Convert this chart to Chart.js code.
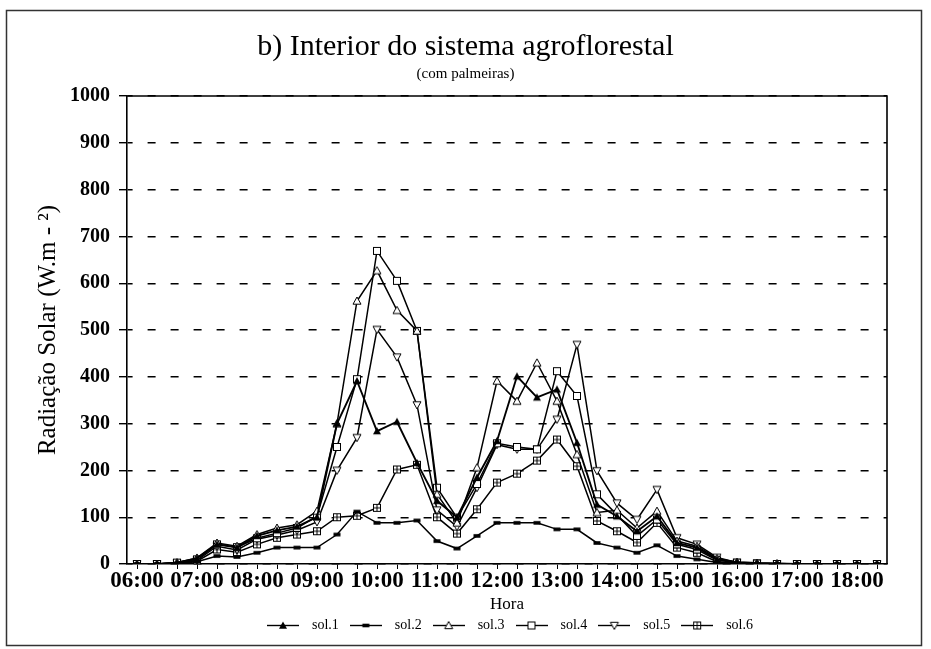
<!DOCTYPE html>
<html><head><meta charset="utf-8">
<script src="https://cdn.jsdelivr.net/npm/chart.js@4.4.0/dist/chart.umd.min.js"></script>
<style>html,body{margin:0;padding:0;background:#fff;overflow:hidden}canvas{display:block}</style>
</head><body>
<canvas id="c" width="931" height="649"></canvas>
<script>
const categories = ['06:00','06:20','06:40','07:00','07:20','07:40','08:00','08:20','08:40','09:00','09:20','09:40',
  '10:00','10:20','10:40','11:00','11:20','11:40','12:00','12:20','12:40','13:00','13:20','13:40',
  '14:00','14:20','14:40','15:00','15:20','15:40','16:00','16:20','16:40','17:00','17:20','17:40','18:00','18:20'];
const hourLabels = ['06:00','07:00','08:00','09:00','10:00','11:00','12:00','13:00','14:00','15:00','16:00','17:00','18:00'];
const seriesNames = ['sol.1','sol.2','sol.3','sol.4','sol.5','sol.6'];
const sol1 = [0,0,3,12,42,35,60,72,80,100,300,391,284,304,216,135,100,185,263,401,356,373,259,127,102,70,102,45,35,10,4,2,1,0,0,0,0,0];
const sol2 = [0,0,1,5,17,15,24,35,35,35,63,112,88,88,93,49,33,60,88,88,88,74,74,45,35,24,40,17,10,3,1,0,0,0,0,0,0,0];
const sol3 = [0,0,3,13,45,38,63,77,84,113,300,562,627,542,498,149,88,206,391,348,430,348,234,110,115,77,113,49,38,12,4,2,1,0,0,0,0,0];
const sol4 = [0,0,3,10,42,36,55,66,77,102,250,395,669,605,498,163,99,171,258,250,245,412,359,149,105,60,95,42,31,8,3,1,0,0,0,0,0,0];
const sol5 = [0,0,2,8,38,30,53,62,72,90,200,270,501,442,340,115,80,163,255,245,245,309,469,199,130,95,159,56,42,14,3,1,0,0,0,0,0,0];
const sol6 = [0,0,2,6,31,25,42,56,63,70,100,103,120,202,212,100,65,117,174,193,221,266,209,92,70,46,88,35,24,5,2,1,0,0,0,0,0,0];
const yMin = 0, yMax = 1000, yStep = 100;

function drawMarker(ctx, cx, cy, kind) {
  ctx.lineWidth = 1;
  ctx.strokeStyle = '#000';
  ctx.fillStyle = '#000';
  const s = 4;
  if (kind === 'triF' || kind === 'triO') {
    ctx.beginPath();
    ctx.moveTo(cx, cy - s); ctx.lineTo(cx + s, cy + s * 0.8); ctx.lineTo(cx - s, cy + s * 0.8); ctx.closePath();
    if (kind === 'triF') ctx.fill(); else { ctx.fillStyle = '#fff'; ctx.fill(); ctx.stroke(); }
  } else if (kind === 'triD') {
    ctx.beginPath();
    ctx.moveTo(cx, cy + s); ctx.lineTo(cx + s, cy - s * 0.8); ctx.lineTo(cx - s, cy - s * 0.8); ctx.closePath();
    ctx.fillStyle = '#fff'; ctx.fill(); ctx.stroke();
  } else if (kind === 'bar') {
    ctx.fillRect(cx - 3.5, cy - 1.8, 7, 3.6);
  } else if (kind === 'sqO') {
    ctx.fillStyle = '#fff';
    ctx.fillRect(cx - 3.5, cy - 3.5, 7, 7);
    ctx.strokeRect(cx - 3.5, cy - 3.5, 7, 7);
  } else if (kind === 'sqX') {
    ctx.fillStyle = '#fff';
    ctx.fillRect(cx - 3.5, cy - 3.5, 7, 7);
    ctx.strokeRect(cx - 3.5, cy - 3.5, 7, 7);
    ctx.beginPath();
    ctx.moveTo(cx - 3.5, cy); ctx.lineTo(cx + 3.5, cy);
    ctx.moveTo(cx, cy - 3.5); ctx.lineTo(cx, cy + 3.5);
    ctx.stroke();
  }
}
function pointIcon(kind) {
  const c = document.createElement('canvas');
  c.width = 12; c.height = 12;
  drawMarker(c.getContext('2d'), 6, 6, kind);
  return c;
}
function legendIcon(kind) {
  const c = document.createElement('canvas');
  c.width = 32; c.height = 12;
  const ctx = c.getContext('2d');
  ctx.strokeStyle = '#000'; ctx.lineWidth = 1.4;
  ctx.beginPath(); ctx.moveTo(0, 6.5); ctx.lineTo(32, 6.5); ctx.stroke();
  drawMarker(ctx, 16, 6.5, kind);
  return c;
}
const kinds = ['triF','bar','triO','sqO','triD','sqX'];
const seriesData = [sol1, sol2, sol3, sol4, sol5, sol6];
const pointIcons = kinds.map(pointIcon);
const legendIcons = kinds.map(legendIcon);

Chart.defaults.font.family = "'Liberation Serif', 'Times New Roman', serif";
Chart.defaults.color = '#000';

const framePlugin = {
  id: 'frame',
  afterDraw(chart) {
    const ctx = chart.ctx, a = chart.chartArea;
    ctx.save();
    ctx.strokeStyle = '#000';
    ctx.lineWidth = 1.6;
    ctx.beginPath();
    ctx.moveTo(a.left, a.top); ctx.lineTo(a.right, a.top); ctx.lineTo(a.right, a.bottom);
    ctx.stroke();
    ctx.strokeStyle = '#333';
    ctx.lineWidth = 1.5;
    ctx.strokeRect(6.5, 10.5, 915, 635);
    ctx.restore();
  }
};

new Chart(document.getElementById('c'), {
  type: 'line',
  data: {
    labels: categories,
    datasets: seriesData.map((d, i) => ({
      label: seriesNames[i],
      data: d,
      yAxisID: 'y',
      borderColor: '#000',
      backgroundColor: '#000',
      borderWidth: i === 0 ? 1.9 : 1.5,
      pointStyle: pointIcons[i],
      pointRadius: 4,
      pointHoverRadius: 4,
      fill: false,
      tension: 0
    }))
  },
  options: {
    responsive: false,
    animation: false,
    layout: { padding: { top: 10, left: 0, right: 0, bottom: 7 } },
    plugins: {
      title: { display: true, text: 'b) Interior do sistema agroflorestal', font: { size: 30, weight: 'normal' }, padding: { top: 19, bottom: 0 } },
      subtitle: { display: true, text: '(com palmeiras)', font: { size: 15 }, padding: { top: 0, bottom: 13 } },
      legend: {
        position: 'bottom',
        fullSize: false,
        labels: {
          usePointStyle: true,
          pointStyleWidth: 44,
          padding: 5,
          font: { size: 14 },
          generateLabels: (chart) => chart.data.datasets.map((ds, i) => ({
            text: ds.label, pointStyle: legendIcons[i], fillStyle: '#000', strokeStyle: '#000',
            lineWidth: 0, hidden: false, datasetIndex: i, fontColor: '#000'
          }))
        }
      },
      tooltip: { enabled: false }
    },
    scales: {
      x: {
        type: 'category',
        offset: true,
        grid: { display: true, drawOnChartArea: false, drawTicks: true, tickLength: 5, color: '#000', lineWidth: 1 },
        border: { display: true, color: '#000', width: 1.6 },
        ticks: {
          autoSkip: false, maxRotation: 0, minRotation: 0, padding: 1,
          font: { size: 23, weight: 'bold', lineHeight: 1.0 },
          callback: (v, i) => hourLabels.includes(categories[i]) ? categories[i] : ''
        },
        title: { display: true, text: 'Hora', font: { size: 17, lineHeight: 1.0 }, padding: { top: 2, bottom: 0 } }
      },
      y: {
        position: 'left',
        min: yMin, max: yMax,
        ticks: { stepSize: yStep, padding: 9, font: { size: 20, weight: 'bold' }, callback: (v) => String(v) },
        grid: { color: '#000', lineWidth: 1.4, tickLength: 8, tickBorderDash: [] },
        border: { display: true, color: '#000', width: 1.6, dash: [8, 15], dashOffset: 3 },
        title: { display: true, text: 'Radiação Solar (W.m - ²)', font: { size: 25 }, padding: { top: 33, bottom: 0 } },
        afterFit: (s) => { s.width = 127; }
      },
      yR: {
        position: 'right',
        min: yMin, max: yMax,
        ticks: { display: false },
        grid: { display: false },
        border: { display: false },
        afterFit: (s) => { s.width = 44; }
      }
    }
  },
  plugins: [framePlugin]
});
</script>
</body></html>
